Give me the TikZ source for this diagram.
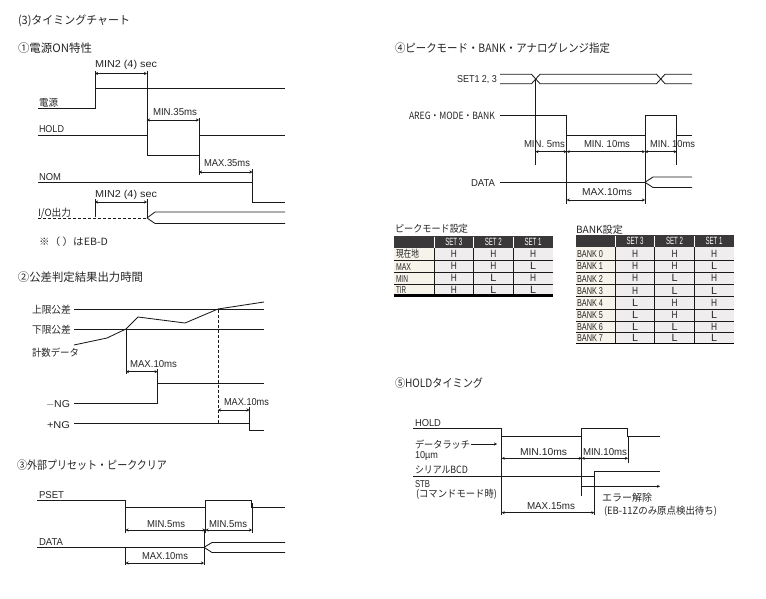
\documentclass[tikz,border=0pt]{standalone}
\usepackage{fontspec}
\setmainfont{Noto Sans CJK JP}
\newfontfamily\latf{Liberation Sans}
\usetikzlibrary{arrows.meta}
\definecolor{ink}{HTML}{1A1A1A}
\definecolor{txt}{HTML}{262626}
\definecolor{head}{HTML}{3A3838}
\definecolor{firstcol}{HTML}{F6F4EA}
\definecolor{cellbg}{HTML}{EFEDED}
\newcommand{\fitw}[2]{\resizebox{#1pt}{\height}{#2}}
\newcommand{\lb}[5]{\node[#1] (#2) at (#3) {\fitw{#4}{#5}};}
\tikzset{
 base/.style={anchor=west,inner sep=0pt,outer sep=0pt,text=txt,text height=8.5pt,text depth=0.5pt},
 ttl/.style={base,text height=10.5pt,font=\fontsize{11.5}{13}\selectfont},
 jp/.style={base,text height=9.5pt,font=\fontsize{10}{12}\selectfont},
 la/.style={base,font=\latf\fontsize{10}{12}\selectfont},
 sig/.style={draw=ink,line width=0.85pt},
 dimln/.style={draw=ink,line width=0.75pt,{Stealth[length=3pt,width=3pt]}-{Stealth[length=3pt,width=3pt]}},
 guide/.style={draw=ink,line width=0.8pt},
 dsh/.style={draw=ink,line width=0.8pt,dash pattern=on 3pt off 2pt},
 cellc/.style={anchor=center,inner sep=0pt,text=txt,font=\latf\fontsize{10.5}{12}\selectfont},
 hd/.style={anchor=center,inner sep=0pt,text=white,font=\latf\fontsize{10.5}{12}\selectfont},
 rowl/.style={base,text height=8pt,font=\latf\fontsize{10}{12}\selectfont},
 rowj/.style={base,text height=8pt,font=\fontsize{10}{12}\selectfont},
}
\begin{document}
\begin{tikzpicture}[x=1pt,y=-1pt]
\useasboundingbox (0,0) rectangle (766,599);
\fill[white] (0,0) rectangle (766,599);
% titles
\lb{ttl}{t0}{18,20}{112}{(3)タイミングチャート}
\lb{ttl}{t1}{18,48}{74}{①電源ON特性}
\lb{ttl}{t2}{18,276}{125}{②公差判定結果出力時間}
\lb{ttl}{t3}{17,464}{150}{③外部プリセット・ピーククリア}
\lb{ttl}{t4}{395,48}{215}{④ピークモード・BANK・アナログレンジ指定}
\lb{ttl}{t5}{395,382}{88}{⑤HOLDタイミング}

% --- 1
\lb{jp}{a1}{39,102}{19}{電源}
\lb{la}{a2}{39,129}{25}{HOLD}
\lb{la}{a3}{39,177}{22}{NOM}
\lb{jp}{a4}{38,212}{33}{I/O出力}
\lb{jp}{a5}{39,241}{69}{※（ ）はEB-D}
\lb{la}{a6}{95,64}{62}{MIN2 (4) sec}
\lb{la}{a7}{153,112}{44}{MIN.35ms}
\lb{la}{a8}{204,163}{46}{MAX.35ms}
\lb{la}{a9}{95,193}{62}{MIN2 (4) sec}
\draw[sig] (38,108) -- (95.5,108) -- (95.5,88.5) -- (285,88.5);
\draw[sig] (38,135.5) -- (147,135.5) -- (147,155) -- (199,155) -- (199,135.5) -- (285,135.5);
\draw[sig] (38,182.5) -- (252.5,182.5) -- (252.5,202) -- (285,202);
\draw[dsh] (38,218) -- (147,218);
\draw[sig] (147,218) -- (155,212) -- (285,212);
\draw[sig] (147,218) -- (155,223.5) -- (285,223.5);
\draw[guide] (95,71) -- (95,88);
\draw[guide] (147,71) -- (147,136);
\draw[guide] (199,118) -- (199,175);
\draw[guide] (252.5,169) -- (252.5,183);
\draw[guide] (95,199) -- (95,217);
\draw[guide] (147,199) -- (147,218);
\draw[dimln] (95,73.5) -- (147,73.5);
\draw[dimln] (147,120) -- (199,120);
\draw[dimln] (199,172) -- (252.5,172);
\draw[dimln] (95,202) -- (147,202);

% --- 2
\lb{jp}{b1}{32,309}{39}{上限公差}
\lb{jp}{b2}{32,329}{39}{下限公差}
\lb{jp}{b3}{32,352}{47}{計数データ}
\lb{la}{b4}{46,403}{24}{$-$NG}
\lb{la}{b5}{47,424}{23}{+NG}
\lb{la}{b6}{130,363}{47}{MAX.10ms}
\lb{la}{b7}{224,401}{45}{MAX.10ms}
\draw[sig] (74,309.5) -- (264,309.5);
\draw[sig] (74,329.5) -- (264,329.5);
\draw[sig] (74,345) -- (107,338) -- (126,329) -- (138,317) -- (185,323) -- (218,309) -- (264,302);
\draw[sig] (74,403) -- (157.5,403) -- (157.5,383) -- (264,383);
\draw[sig] (74,423.5) -- (249.5,423.5) -- (249.5,430) -- (264,430);
\draw[guide] (126,329) -- (126,374);
\draw[guide] (157.5,369) -- (157.5,383);
\draw[dsh] (218,309.5) -- (218,423.5);
\draw[guide] (249.5,407) -- (249.5,424);
\draw[dimln] (126,371.7) -- (157.5,371.7);
\draw[dimln] (218,410) -- (249.5,410);

% --- 3
\lb{la}{c1}{39,494}{25}{PSET}
\lb{la}{c2}{39,541}{24}{DATA}
\lb{la}{c3}{147,523}{38}{MIN.5ms}
\lb{la}{c4}{209,523}{38}{MIN.5ms}
\lb{la}{c5}{142,555}{46}{MAX.10ms}
\draw[sig] (37,500) -- (125.5,500) -- (125.5,507) -- (205.5,507) -- (205.5,500) -- (251.5,500) -- (251.5,507) -- (285,507);
\draw[sig] (37,547.3) -- (204,547.3);
\draw[sig] (204,547.3) -- (212,542.5) -- (285,542.5);
\draw[sig] (204,547.3) -- (212,552.5) -- (285,552.5);
\draw[guide] (125.5,500) -- (125.5,533);
\draw[guide] (205.5,500) -- (205.5,533);
\draw[guide] (252,503) -- (252,533);
\draw[guide] (125.5,547) -- (125.5,565);
\draw[guide] (204,530) -- (204,565);
\draw[dimln] (125.5,530) -- (205.5,530);
\draw[dimln] (205.5,530) -- (252,530);
\draw[dimln] (125.5,563) -- (204,563);

% --- 4
\lb{la}{d1}{457,79}{40}{SET1 2, 3}
\lb{jp}{d2}{409,115}{86}{AREG・MODE・BANK}
\lb{la}{d3}{471,182}{24}{DATA}
\lb{la}{d4}{524,144}{41}{MIN. 5ms}
\lb{la}{d5}{584,144}{46}{MIN. 10ms}
\lb{la}{d6}{650,144}{45}{MIN. 10ms}
\lb{la}{d7}{582,192}{50}{MAX.10ms}
\draw[sig] (500,74.3) -- (531.5,74.3) -- (540,83.7) -- (656.5,83.7) -- (665,74.3) -- (692,74.3);
\draw[sig] (500,83.7) -- (531.5,83.7) -- (540,74.3) -- (656.5,74.3) -- (665,83.7) -- (692,83.7);
\draw[sig] (500,115.3) -- (566.7,115.3) -- (566.7,135.3) -- (645,135.3) -- (645,115.3) -- (676.7,115.3) -- (676.7,135.3) -- (692,135.3);
\draw[sig] (500,182.3) -- (645,182.3);
\draw[sig] (645,182.3) -- (653,177) -- (692,177);
\draw[sig] (645,182.3) -- (653,187.5) -- (692,187.5);
\draw[guide] (535.5,79) -- (535.5,165);
\draw[guide] (566.7,115) -- (566.7,204);
\draw[guide] (645,115) -- (645,204);
\draw[guide] (676.7,135) -- (676.7,165);
\draw[dimln] (535.5,151.7) -- (566.7,151.7);
\draw[dimln] (566.7,151.7) -- (645,151.7);
\draw[dimln] (645,151.7) -- (676.7,151.7);
\draw[dimln] (566.7,200) -- (645,200);

% --- table 1
\lb{jp}{e0}{395,228}{73}{ピークモード設定}
\fill[firstcol] (394,247.7) rectangle (434.3,294.3);
\fill[cellbg] (434.3,247.7) rectangle (553,294.3);
\fill[head] (394,235.7) rectangle (553,247.7);
\fill[black] (394,294.3) rectangle (553,297.3);
\foreach \yy in {260.3,272.3,284.3} \draw[ink,line width=0.8pt] (394,\yy) -- (553,\yy);
\foreach \xx in {434.3,473.3,513.3} {
  \draw[white,line width=0.8pt] (\xx,236.5) -- (\xx,247.7);
  \draw[ink,line width=0.8pt] (\xx,247.7) -- (\xx,294.3);
}
\node[hd] (e1) at (453.8,241.7) {\fitw{17}{SET 3}};
\node[hd] (e2) at (493.3,241.7) {\fitw{17}{SET 2}};
\node[hd] (e3) at (533,241.7) {\fitw{17}{SET 1}};
\node[rowj] (er1) at (396,254) {\fitw{23}{現在地}};
\foreach \lbl/\yc/\w [count=\i from 2] in {MAX/266.3/15,MIN/278.3/12,TIR/289.5/10} {
  \node[rowl] (er\i) at (396,\yc) {\fitw{\w}{\lbl}};
}
\foreach \p/\q/\r/\yc [count=\i] in {H/H/H/254,H/H/L/266.3,H/L/H/278.3,H/L/L/289.5} {
  \node[cellc] (ep\i) at (453.8,\yc) {\fitw{6}{\p}};
  \node[cellc] (eq\i) at (493.3,\yc) {\fitw{6}{\q}};
  \node[cellc] (es\i) at (533,\yc) {\fitw{6}{\r}};
}

% --- table 2
\lb{jp}{f0}{576,229}{47}{BANK設定}
\fill[firstcol] (576,247.3) rectangle (615,343.3);
\fill[cellbg] (615,247.3) rectangle (734,343.3);
\fill[head] (576,235) rectangle (734,247.3);
\foreach \yy in {260,272.3,284.3,296.7,309,321,332.3} \draw[ink,line width=0.8pt] (576,\yy) -- (734,\yy);
\draw[black,line width=1.4pt] (576,343.5) -- (734,343.5);
\foreach \xx in {615,654.3,694.3} {
  \draw[white,line width=0.8pt] (\xx,236) -- (\xx,247.3);
  \draw[ink,line width=0.8pt] (\xx,247.3) -- (\xx,343.3);
}
\node[hd] (f1) at (635,241.2) {\fitw{17}{SET 3}};
\node[hd] (f2) at (674.5,241.2) {\fitw{17}{SET 2}};
\node[hd] (f3) at (714,241.2) {\fitw{17}{SET 1}};
\foreach \lbl/\p/\q/\r/\yc [count=\i] in {BANK 0/H/H/H/254,BANK 1/H/H/L/266.2,BANK 2/H/L/H/278.3,BANK 3/H/L/L/290.5,BANK 4/L/H/H/302.8,BANK 5/L/H/L/315,BANK 6/L/L/H/326.7,BANK 7/L/L/L/338} {
  \node[rowl] (fr\i) at (577,\yc) {\fitw{26}{\lbl}};
  \node[cellc] (fp\i) at (635,\yc) {\fitw{6}{\p}};
  \node[cellc] (fq\i) at (674.5,\yc) {\fitw{6}{\q}};
  \node[cellc] (fs\i) at (714,\yc) {\fitw{6}{\r}};
}

% --- 5
\lb{la}{g1}{415,422}{26}{HOLD}
\lb{jp}{g2}{415,444}{55}{データラッチ}
\lb{la}{g3}{415,454}{23}{10µm}
\lb{jp}{g4}{415,469}{53}{シリアルBCD}
\lb{la}{g5}{415,483}{15}{STB}
\lb{jp}{g6}{416,493}{81}{(コマンドモード時)}
\lb{la}{g7}{520,451}{47}{MIN.10ms}
\lb{la}{g8}{583,451}{44}{MIN.10ms}
\lb{la}{g9}{527,505}{48}{MAX.15ms}
\lb{jp}{g10}{602,497}{50}{エラー解除}
\lb{jp}{g11}{604,510}{113}{(EB-11Zのみ原点検出待ち)}
\draw[sig] (413,428.3) -- (501.7,428.3) -- (501.7,436) -- (581.7,436) -- (581.7,428.3) -- (627.3,428.3) -- (627.3,436) -- (660,436);
\draw[sig] (413,476.3) -- (594.3,476.3) -- (594.3,471.3) -- (660,471.3);
\draw[draw=ink,line width=0.75pt,-{Stealth[length=3pt,width=3pt]}] (471,444) -- (497,444);
\draw[guide,-{Stealth[length=3pt,width=3pt]}] (581.7,486.3) -- (660,486.3);
\draw[guide] (501.7,428) -- (501.7,515);
\draw[guide] (581.7,436) -- (581.7,496);
\draw[guide] (628,436) -- (628,462.7);
\draw[guide] (594.3,471) -- (594.3,515);
\draw[dimln] (501.7,458.3) -- (581.7,458.3);
\draw[dimln] (581.7,458.3) -- (628,458.3);
\draw[dimln] (501.7,512.7) -- (594.3,512.7);
\end{tikzpicture}
\end{document}
